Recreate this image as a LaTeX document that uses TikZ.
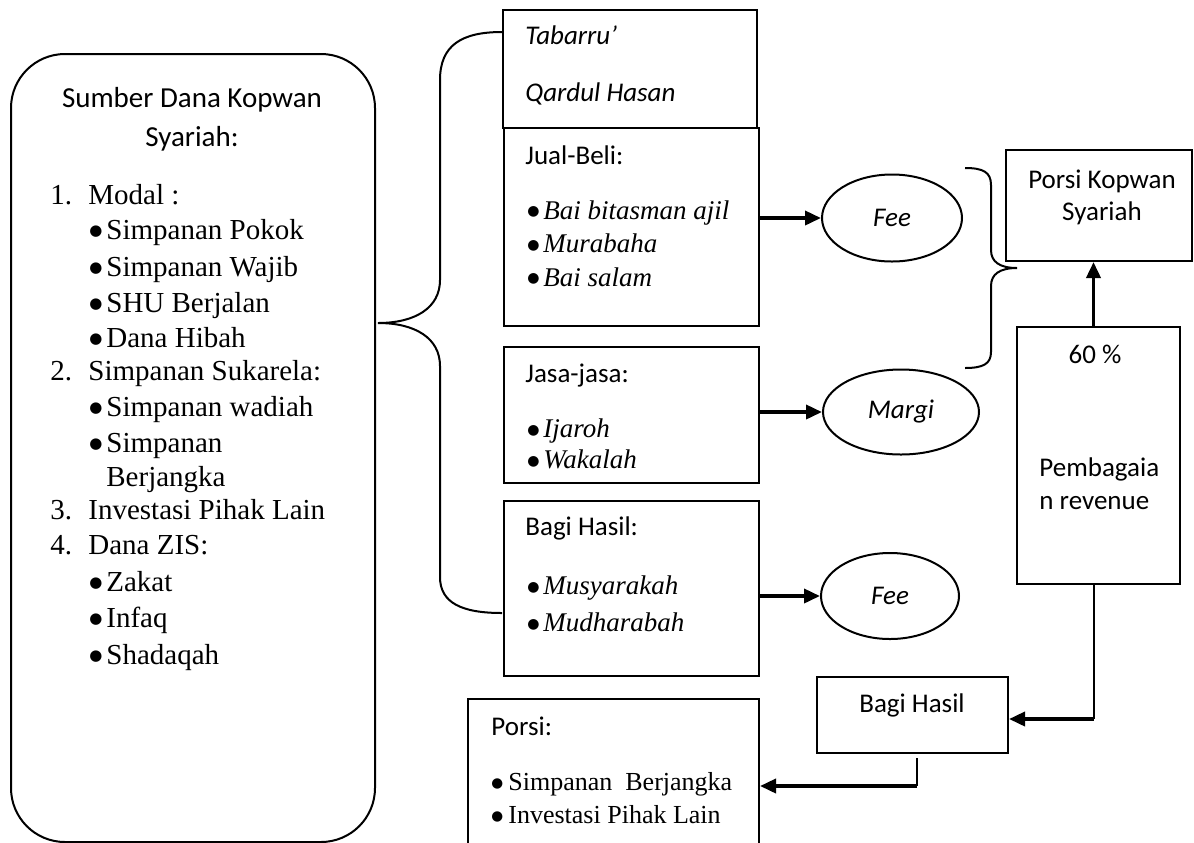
\documentclass[tikz,border=0pt]{standalone}
\usepackage{fontspec}
\setmainfont{Liberation Serif}
\newfontfamily\calfont{Carlito}
\newfontfamily\djvfont{DejaVu Sans}
\usetikzlibrary{shapes.geometric,arrows.meta}
\newcommand\mybulL{\makebox[8.5pt][l]{\raisebox{1.9pt}{\upshape\djvfont\fontsize{7.5}{8}\selectfont ●}}}
\newcommand\mybulM{\makebox[8pt][l]{\raisebox{1.8pt}{\upshape\djvfont\fontsize{7}{8}\selectfont ●}}}
\newcommand\mybulP{\makebox[8.5pt][l]{\raisebox{1.7pt}{\upshape\djvfont\fontsize{6.8}{8}\selectfont ●}}}
\begin{document}
\begin{tikzpicture}[x=0.5pt,y=-0.5pt,
  box/.style={draw,line width=1pt,inner sep=0pt},
  ell/.style={draw,ellipse,line width=1pt,inner sep=0pt},
  txt/.style={anchor=mid west,inner sep=0pt},
  ctr/.style={anchor=mid,inner sep=0pt},
  hd/.style={font=\calfont\fontsize{14.5}{17}\selectfont},
  ls/.style={font=\fontsize{14.5}{17}\selectfont},
  ms/.style={font=\calfont\fontsize{13.5}{16}\selectfont},
  msi/.style={font=\calfont\itshape\fontsize{13.5}{16}\selectfont},
  mi/.style={font=\itshape\fontsize{13.5}{16}\selectfont},
  ps/.style={font=\fontsize{13}{15}\selectfont},
  arr/.style={line width=1.8pt,-{Triangle[length=8pt,width=7pt]}},
  thinl/.style={line width=1pt},
  brace/.style={line width=1pt}]
\useasboundingbox (0,0) rectangle (1194,842);
\clip (0,0) rectangle (1194,842);

% left source box
\node[box,rounded corners=27pt,minimum width=182pt,minimum height=394pt] (src) at (193,448) {};
\node[ctr,hd] (h1) at (192,103) {Sumber Dana Kopwan};
\node[ctr,hd] (h2) at (192,142) {Syariah:};
\node[txt,ls] (a1) at (50,200) {\makebox[19pt][l]{1.}Modal :};
\node[txt,ls] (a2) at (89,235) {\mybulL Simpanan Pokok};
\node[txt,ls] (a3) at (89,272) {\mybulL Simpanan Wajib};
\node[txt,ls] (a4) at (89,308) {\mybulL SHU Berjalan};
\node[txt,ls] (a5) at (89,343) {\mybulL Dana Hibah};
\node[txt,ls] (a6) at (50,376) {\makebox[19pt][l]{2.}Simpanan Sukarela:};
\node[txt,ls] (a7) at (89,412) {\mybulL Simpanan wadiah};
\node[txt,ls] (a8) at (89,448) {\mybulL Simpanan};
\node[txt,ls] (a9) at (106,482) {Berjangka};
\node[txt,ls] (a10) at (50,515) {\makebox[19pt][l]{3.}Investasi Pihak Lain};
\node[txt,ls] (a11) at (50,550) {\makebox[19pt][l]{4.}Dana ZIS:};
\node[txt,ls] (a12) at (89,587) {\mybulL Zakat};
\node[txt,ls] (a13) at (89,623) {\mybulL Infaq};
\node[txt,ls] (a14) at (89,660) {\mybulL Shadaqah};

% big brace
\draw[brace] (502,32) .. controls (462,32) and (440,45) .. (440,80)
  -- (440,280) .. controls (440,308) and (415,323) .. (378,323)
  .. controls (415,323) and (440,338) .. (440,366)
  -- (440,577) .. controls (440,603) and (462,613) .. (502,613);

% middle boxes
\node[box,minimum width=127pt,minimum height=59pt] (tab) at (630,69) {};
\node[txt,msi] (t1) at (525,40) {Tabarru’};
\node[txt,msi] (t2) at (525,97) {Qardul Hasan};

\node[box,minimum width=127.5pt,minimum height=99pt] (jb) at (631.5,227) {};
\node[txt,ms] (j0) at (525,160) {Jual-Beli:};
\node[txt,mi] (j1) at (527,215) {\mybulM Bai bitasman ajil};
\node[txt,mi] (j2) at (527,248) {\mybulM Murabaha};
\node[txt,mi] (j3) at (527,282) {\mybulM Bai salam};

\node[box,minimum width=127.5pt,minimum height=68pt] (js) at (631.5,415) {};
\node[txt,ms] (s0) at (525,378) {Jasa-jasa:};
\node[txt,mi] (s1) at (527,433) {\mybulM Ijaroh};
\node[txt,mi] (s2) at (527,464) {\mybulM Wakalah};

\node[box,minimum width=127.5pt,minimum height=87.5pt] (bh) at (631.5,588.5) {};
\node[txt,ms] (b0) at (525,531) {Bagi Hasil:};
\node[txt,mi] (b1t) at (527,590) {\mybulM Musyarakah};
\node[txt,mi] (b2t) at (527,627) {\mybulM Mudharabah};

% ellipses
\node[ell,minimum width=70pt,minimum height=43.5pt,msi] (fee1) at (892,218) {Fee};
\node[ell,minimum width=78pt,minimum height=42.5pt,msi] (margi) at (901,412) {Margi};
\node[ell,minimum width=69pt,minimum height=43pt,msi] (fee2) at (890,596) {Fee};

\draw[arr] (jb.east |- fee1.west) -- (fee1.west);
\draw[arr] (js.east |- margi.west) -- (margi.west);
\draw[arr] (bh.east |- fee2.west) -- (fee2.west);

% small brace
\draw[brace] (965,168) .. controls (983,168) and (991,172) .. (991,185)
  -- (991,250) .. controls (991,262) and (1000,268) .. (1017,268)
  .. controls (1000,268) and (991,274) .. (991,286)
  -- (991,352) .. controls (991,364) and (983,368) .. (965,368);

% right boxes
\node[box,minimum width=93pt,minimum height=55.5pt] (pk) at (1099,205.5) {};
\node[ctr,ms] (pk1) at (1102,184) {Porsi Kopwan};
\node[ctr,ms] (pk2) at (1102,216) {Syariah};

\node[box,minimum width=81.5pt,minimum height=128.5pt] (rev) at (1098.5,455.5) {};
\node[ctr,ms] (r0) at (1095,359) {60 \%};
\node[txt,ms] (r1) at (1039,472) {Pembagaia};
\node[txt,ms] (r2) at (1039,505) {n revenue};

\coordinate (revtop) at ([xshift=-2.5pt]rev.north);
\coordinate (revbot) at ([xshift=-2.5pt]rev.south);
\draw[arr] (revtop) -- (revtop |- pk.south);

\node[box,minimum width=95.5pt,minimum height=38pt] (bhs) at (912.5,715) {};
\node[ctr,ms] (bhs1) at (912,708) {Bagi Hasil};

\coordinate (rc) at (revbot |- 0,719);
\draw[thinl] (revbot) -- (rc);
\draw[arr] (rc) -- (bhs.east |- rc);

% porsi box
\node[box,minimum width=145.5pt,minimum height=90.5pt] (por) at (613.5,789.5) {};
\node[txt,ms] (p0) at (491,731) {Porsi:};
\node[txt,ps] (p1) at (491,786) {\mybulP Simpanan\ \ Berjangka};
\node[txt,ps] (p2) at (491,819) {\mybulP Investasi Pihak Lain};

\coordinate (c1) at (917,758);
\coordinate (c2) at (917,786);
\draw[thinl] (c1) -- (c2);
\draw[arr] (c2) -- (por.east |- c2);
\end{tikzpicture}
\end{document}
